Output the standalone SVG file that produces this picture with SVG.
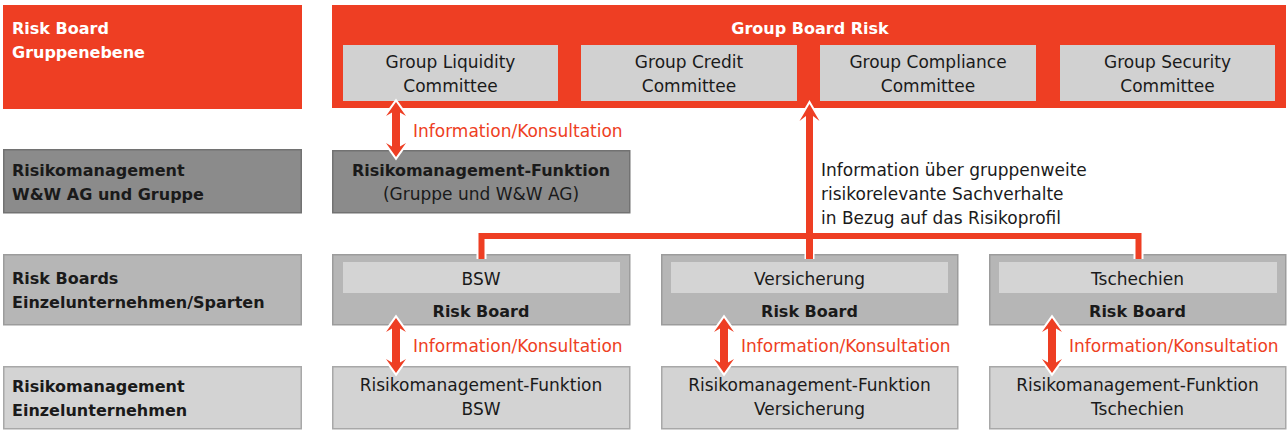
<svg xmlns="http://www.w3.org/2000/svg" width="1287" height="441" viewBox="0 0 1287 441">
<style>
text{font-family:"DejaVu Sans","Liberation Sans",sans-serif;font-size:17px;fill:#1a1a1a}
.b{font-weight:bold;font-size:16px}
.w{fill:#fff}
.r{fill:#ee3e23}
.c{text-anchor:middle}
.red{fill:#ee3e23}
.g2{fill:#8b8b8b;stroke:#727272;stroke-width:1.5}
.g3{fill:#b6b6b6;stroke:#9c9c9c;stroke-width:1.5}
.g3i{fill:#d4d4d4}
.g4{fill:#d3d3d3;stroke:#a8a8a8;stroke-width:1.5}
.cm{fill:#d1d1d1}
.halo{fill:none;stroke:#fff;stroke-width:10}
.ln{fill:none;stroke:#ee3e23;stroke-width:6}
.hw{fill:#fff;stroke:#fff;stroke-width:4;stroke-linejoin:miter}
.ahf{fill:#ee3e23}
</style>
<defs>
<path id="dbl" d="M0 0L10 14L4 10.5V44.5L10 41L0 55L-10 41L-4 44.5V10.5L-10 14Z"/>
<path id="up" d="M0 0L10 17L3.5 12H-3.5L-10 17Z"/>
</defs>
<g id="label-gruppenebene">
<rect class="red" x="3" y="5" width="299" height="104"/>
<text class="b w" x="12" y="34">Risk Board</text>
<text class="b w" x="12" y="58">Gruppenebene</text>
</g>
<g id="group-board-risk">
<rect class="red" x="332" y="5" width="954" height="103"/>
<text class="b w c" x="810" y="34">Group Board Risk</text>
</g>
<g id="liquidity">
<rect class="cm" x="343" y="45" width="215" height="56"/>
<text class="c" x="450.5" y="68">Group Liquidity</text>
<text class="c" x="450.5" y="92">Committee</text>
</g>
<g id="credit">
<rect class="cm" x="581" y="45" width="216" height="56"/>
<text class="c" x="689" y="68">Group Credit</text>
<text class="c" x="689" y="92">Committee</text>
</g>
<g id="compliance">
<rect class="cm" x="820" y="45" width="216" height="56"/>
<text class="c" x="928" y="68">Group Compliance</text>
<text class="c" x="928" y="92">Committee</text>
</g>
<g id="security">
<rect class="cm" x="1060" y="45" width="215" height="56"/>
<text class="c" x="1167.5" y="68">Group Security</text>
<text class="c" x="1167.5" y="92">Committee</text>
</g>
<g id="label-rm-gruppe">
<rect class="g2" x="3.75" y="149.75" width="297.5" height="63"/>
<text class="b" x="12" y="176">Risikomanagement</text>
<text class="b" x="12" y="200">W&amp;W AG und Gruppe</text>
</g>
<g id="rm-gruppe">
<rect class="g2" x="332.75" y="150.75" width="297" height="62"/>
<text class="b c" x="481" y="176">Risikomanagement-Funktion</text>
<text class="c" x="481" y="200">(Gruppe und W&amp;W AG)</text>
</g>
<g id="label-riskboards">
<rect class="g3" x="3.75" y="254.75" width="297.5" height="70"/>
<text class="b" x="12" y="284">Risk Boards</text>
<text class="b" x="12" y="308">Einzelunternehmen/Sparten</text>
</g>
<g id="rb-bsw">
<rect class="g3" x="332.75" y="254.75" width="297" height="70"/>
<rect class="g3i" x="343" y="262" width="277" height="31"/>
<text class="c" x="481" y="285">BSW</text>
<text class="b c" x="481" y="317">Risk Board</text>
</g>
<g id="rb-vers">
<rect class="g3" x="661.75" y="254.75" width="296" height="70"/>
<rect class="g3i" x="671" y="262" width="277" height="31"/>
<text class="c" x="809.5" y="285">Versicherung</text>
<text class="b c" x="809.5" y="317">Risk Board</text>
</g>
<g id="rb-cz">
<rect class="g3" x="989.75" y="254.75" width="296" height="70"/>
<rect class="g3i" x="999" y="262" width="278" height="31"/>
<text class="c" x="1137.5" y="285">Tschechien</text>
<text class="b c" x="1137.5" y="317">Risk Board</text>
</g>
<g id="label-rm-einzel">
<rect class="g4" x="3.75" y="366.75" width="297.5" height="62"/>
<text class="b" x="12" y="392">Risikomanagement</text>
<text class="b" x="12" y="416">Einzelunternehmen</text>
</g>
<g id="rm-bsw">
<rect class="g4" x="332.75" y="366.75" width="297" height="62"/>
<text class="c" x="481" y="391">Risikomanagement-Funktion</text>
<text class="c" x="481" y="415">BSW</text>
</g>
<g id="rm-vers">
<rect class="g4" x="661.75" y="366.75" width="296" height="62"/>
<text class="c" x="809.5" y="391">Risikomanagement-Funktion</text>
<text class="c" x="809.5" y="415">Versicherung</text>
</g>
<g id="rm-cz">
<rect class="g4" x="989.75" y="366.75" width="296" height="62"/>
<text class="c" x="1137.5" y="391">Risikomanagement-Funktion</text>
<text class="c" x="1137.5" y="415">Tschechien</text>
</g>
<g id="connectors">
<path class="halo" d="M481.5 259V236H1138.5V259M809.5 259V118"/>
<use href="#up" class="hw" x="809.5" y="104"/>
<use href="#dbl" class="hw" x="396" y="102"/>
<use href="#dbl" class="hw" x="396" y="318"/>
<use href="#dbl" class="hw" x="724" y="318"/>
<use href="#dbl" class="hw" x="1052" y="318"/>
<path class="ln" d="M481.5 259V236H1138.5V259"/>
<path class="ln" d="M809.5 259V114" style="stroke-width:7"/>
<use href="#up" class="ahf" x="809.5" y="104"/>
<use href="#dbl" class="ahf" x="396" y="102"/>
<use href="#dbl" class="ahf" x="396" y="318"/>
<use href="#dbl" class="ahf" x="724" y="318"/>
<use href="#dbl" class="ahf" x="1052" y="318"/>
<text class="r" x="413" y="136.5">Information/Konsultation</text>
<text class="r" x="413" y="352">Information/Konsultation</text>
<text class="r" x="741" y="352">Information/Konsultation</text>
<text class="r" x="1069" y="352">Information/Konsultation</text>
<text x="821" y="176">Information über gruppenweite</text>
<text x="821" y="200">risikorelevante Sachverhalte</text>
<text x="821" y="224">in Bezug auf das Risikoprofil</text>
</g>
</svg>
